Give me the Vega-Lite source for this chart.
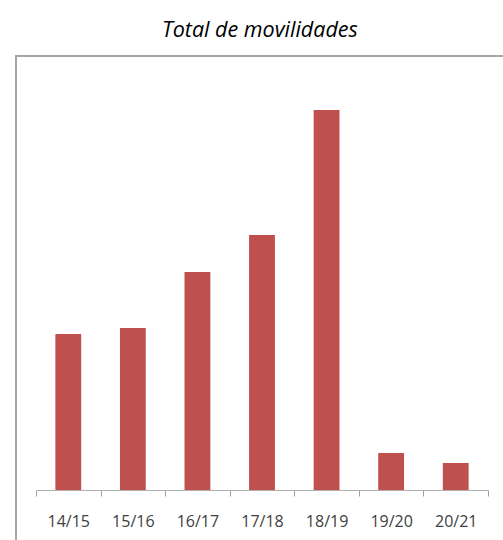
{
  "$schema": "https://vega.github.io/schema/vega-lite/v6.json",
  "autosize": {"type": "none"},
  "padding": {"left": 16, "top": 56, "right": -3, "bottom": -3},
  "width": 490,
  "height": 487,
  "background": "white",
  "title": {
    "text": "Total de movilidades",
    "font": "Open Sans",
    "fontStyle": "italic",
    "fontWeight": "normal",
    "fontSize": 21.5,
    "color": "#000000",
    "anchor": "start",
    "frame": "bounds",
    "dx": 146,
    "offset": 15
  },
  "config": {
    "view": {"stroke": "#a6a6a6", "strokeWidth": 2}
  },
  "data": {
    "values": [
      {"curso": "14/15", "valor": 156},
      {"curso": "15/16", "valor": 162},
      {"curso": "16/17", "valor": 218},
      {"curso": "17/18", "valor": 255},
      {"curso": "18/19", "valor": 380},
      {"curso": "19/20", "valor": 37},
      {"curso": "20/21", "valor": 27}
    ]
  },
  "mark": {"type": "bar", "color": "#c0504d", "width": {"band": 0.4}},
  "encoding": {
    "x": {
      "field": "curso",
      "type": "nominal",
      "sort": null,
      "scale": {"range": [20, 472], "paddingInner": 0, "paddingOuter": 0},
      "axis": {
        "title": null,
        "labelAngle": 0,
        "offset": -53,
        "tickBand": "extent",
        "domainColor": "#b0b0b0",
        "tickColor": "#a0a0a0",
        "tickSize": 6,
        "tickWidth": 1,
        "labelFont": "Open Sans",
        "labelFontSize": 16,
        "labelColor": "#404040",
        "labelPadding": 17,
        "grid": false
      }
    },
    "y": {
      "field": "valor",
      "type": "quantitative",
      "scale": {"domain": [-53, 434], "nice": false, "zero": false},
      "axis": null
    }
  }
}
